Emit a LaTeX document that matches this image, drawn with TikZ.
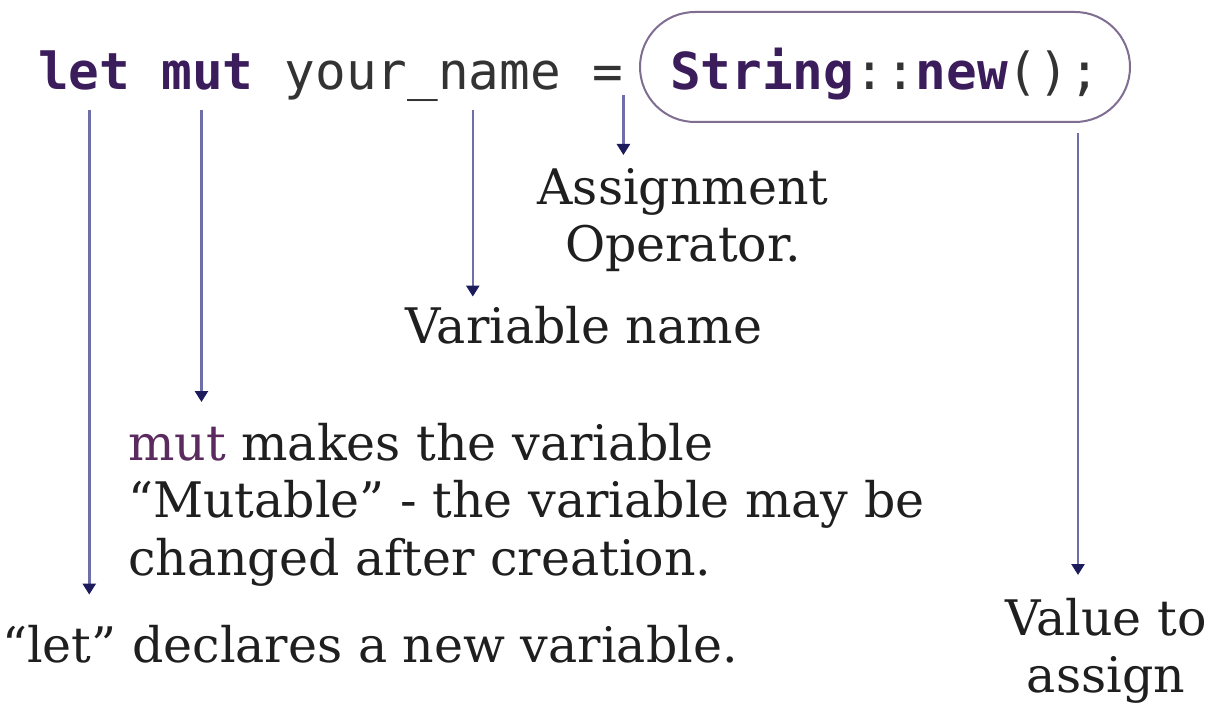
\documentclass[tikz,border=0pt]{standalone}
\usepackage{fontspec}
\setmainfont{DejaVu Serif}
\setmonofont{DejaVu Sans Mono}
\usetikzlibrary{arrows.meta}
\definecolor{kwpurple}{HTML}{3B1D5C}
\definecolor{codegray}{HTML}{333333}
\definecolor{boxline}{HTML}{7F6E92}
\definecolor{arrline}{HTML}{6E6EAA}
\definecolor{arrhead}{HTML}{1C1C5C}
\definecolor{mutpurple}{HTML}{5B2A5E}
\newcommand{\codefont}{\ttfamily\fontsize{51}{60}\selectfont}
\newcommand{\lblfont}{\fontsize{49}{57.5}\selectfont}
\newcommand{\kw}[1]{\textbf{\color{kwpurple}#1}}
\begin{document}
\begin{tikzpicture}[x=1pt,y=-1pt,
	code/.style={font=\codefont,text=codegray,inner sep=0pt,anchor=base west},
	lbl/.style={font=\lblfont,text=black!88,inner sep=0pt},
	arr/.style={draw=arrline,line width=2.5pt,-{Triangle[width=13pt,length=11pt,color=arrhead]}}]
	\useasboundingbox[fill=white] (0,0) rectangle (1217,708);
	\node[code] (kwlet) at (38,90) {\kw{let}};
	\node[code] (kwmut) at ([xshift=30.7pt]kwlet.base east) {\kw{mut}};
	\node[code] (varname) at ([xshift=30.7pt]kwmut.base east) {your\_name};
	\node[code] (assign) at ([xshift=30.7pt]varname.base east) {=};
	\node[draw=boxline,line width=2pt,rounded corners=55pt,minimum width=490pt,minimum height=110pt,
		font=\codefont,text=codegray,inner sep=0pt,text height=46pt,text depth=0pt] (value) at (885,67) {\kw{String}::\kw{new}();};
	\node[lbl,align=center,anchor=north] (asgnlbl) at (683,168) {Assignment\\Operator.};
	\node[lbl,anchor=base] (varlbl) at (584,343) {Variable name};
	\node[lbl,align=left,anchor=north west] (mutlbl) at (128,423) {{\color{mutpurple}mut} makes the variable\\“Mutable” - the variable may be\\changed after creation.};
	\node[lbl,anchor=base west] (letlbl) at (2,662) {“let” declares a new variable.};
	\node[lbl,align=center,anchor=north] (vallbl) at (1106,598) {Value to\\assign};
	\draw[arr,shorten >=30pt] ([shift={(5,20)}]kwlet.base) -- ([xshift=5pt]kwlet.base |- letlbl.north);
	\draw[arr,shorten >=21pt] ([shift={(-6,20)}]kwmut.base) -- ([xshift=-6pt]kwmut.base |- mutlbl.north);
	\draw[arr,shorten >=9pt] ([shift={(50,20)}]varname.base) -- ([xshift=50pt]varname.base |- varlbl.north);
	\draw[arr,shorten >=13pt] ([shift={(16,5)}]assign.base) -- ([xshift=16pt]assign.base |- asgnlbl.north);
	\draw[arr,shorten >=23pt] ([shift={(193,10)}]value.south) -- ([xshift=193pt]value.south |- vallbl.north);
\end{tikzpicture}
\end{document}
